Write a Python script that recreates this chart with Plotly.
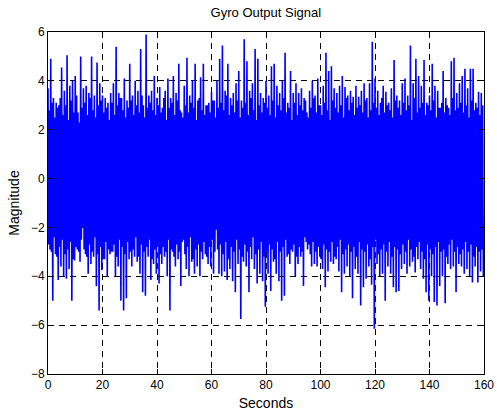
import plotly.graph_objects as go

# Largest peaks (one per second, t = i) and deepest troughs (t = i + 0.75)
upper = [3.7, 4.9, 3.3, 3.1, 3.0, 4.55, 3.6, 5.05, 3.8, 4.0,
         4.2, 2.7, 5.0, 3.7, 3.8, 3.5, 5.0, 3.4, 4.75, 3.9,
         3.4, 3.3, 3.1, 3.5, 3.9, 5.4, 3.5, 3.3, 4.1, 3.2,
         4.7, 3.4, 4.0, 3.6, 5.3, 3.0, 5.9, 3.4, 3.6, 4.2,
         3.3, 3.75, 2.9, 3.6, 4.1, 3.3, 4.2, 3.5, 4.7, 2.7,
         3.8, 4.95, 3.4, 4.0, 4.7, 3.2, 4.15, 4.7, 3.0, 3.1,
         3.55, 3.2, 4.0, 4.9, 5.45, 3.6, 4.7, 3.3, 3.5, 3.9,
         4.4, 3.2, 5.7, 4.8, 3.6, 3.9, 5.3, 4.9, 3.5, 3.3,
         4.0, 3.4, 4.6, 4.7, 3.8, 3.5, 4.0, 5.15, 3.1, 4.4,
         3.5, 3.9, 3.5, 3.7, 3.3, 2.7, 3.6, 4.0, 3.4, 4.1,
         3.0, 3.8, 5.15, 4.4, 4.6, 3.7, 3.5, 3.8, 4.2, 3.75,
         3.4, 3.6, 3.35, 3.8, 3.35, 3.6, 3.9, 3.3, 3.9, 5.6,
         4.1, 3.6, 3.1, 3.8, 3.55, 3.1, 3.7, 4.85, 3.4, 3.2,
         3.9, 4.1, 3.4, 5.45, 3.9, 4.9, 4.2, 3.8, 4.85, 3.1,
         3.4, 4.7, 3.8, 3.6, 2.9, 4.4, 3.3, 2.9, 4.8, 4.95,
         3.5, 3.9, 4.2, 4.5, 3.7, 4.5, 4.5, 3.1, 3.55, 3.5]

lower = [-2.9, -5.0, -3.1, -4.15, -3.6, -4.0, -4.1, -3.7, -5.0, -3.35,
         -2.9, -3.4, -2.0, -3.1, -3.9, -3.5, -3.2, -4.4, -5.4, -3.75,
         -3.3, -4.0, -3.1, -3.0, -4.0, -3.6, -5.0, -5.4, -4.9, -3.3,
         -3.6, -3.2, -3.4, -3.9, -4.65, -4.8, -3.2, -4.15, -3.5, -3.9,
         -4.3, -3.5, -3.2, -4.0, -5.4, -3.0, -3.6, -3.3, -4.4, -2.5,
         -3.7, -4.0, -3.4, -3.9, -3.6, -4.0, -3.3, -3.1, -3.5, -3.6,
         -3.9, -2.1, -3.9, -4.0, -3.8, -4.15, -3.7, -4.2, -4.65, -3.5,
         -5.75, -3.4, -3.6, -4.65, -3.3, -3.7, -4.3, -3.9, -4.2, -5.25,
         -3.9, -4.6, -3.4, -3.9, -4.2, -5.0, -4.8, -3.2, -3.5, -3.0,
         -4.0, -3.5, -3.2, -4.4, -2.6, -2.7, -3.6, -3.5, -3.6, -3.2,
         -3.7, -4.45, -3.8, -3.4, -3.5, -3.3, -3.8, -4.65, -3.9, -3.6,
         -4.0, -4.9, -3.7, -3.9, -5.2, -4.45, -4.1, -3.6, -4.35, -6.15,
         -3.5, -4.0, -3.9, -5.0, -3.6, -3.9, -4.45, -4.65, -4.6, -3.7,
         -3.5, -3.9, -3.6, -3.4, -3.85, -3.3, -3.7, -4.1, -4.65, -5.0,
         -4.0, -5.05, -5.2, -4.4, -4.0, -5.1, -3.5, -3.7, -3.6, -4.65,
         -3.5, -3.6, -3.9, -3.7, -4.0, -4.25, -3.6, -4.25, -3.8, -4.0]

# Secondary (smaller) peaks (t = i + 0.5) and troughs (t = i + 0.25)
upper2 = [2.8, 3.1, 2.5, 2.9, 3.3, 2.6, 3.0, 2.4, 3.2, 2.7,
          3.4, 2.3, 2.9, 3.1, 2.6, 3.3, 2.8, 2.5, 3.0, 3.2,
          2.7, 2.9, 2.4, 3.1, 2.6, 3.0, 3.3, 2.8, 2.5, 2.9,
          3.2, 2.6, 3.0, 2.7, 3.4, 2.5, 2.9, 3.1, 2.8, 2.6,
          3.0, 2.7, 3.3, 2.4, 2.9, 3.1, 2.6, 3.2, 2.8, 2.5,
          3.0, 2.7, 3.1, 2.9, 2.4, 3.3, 2.8, 2.6, 3.0, 2.7,
          3.2, 2.5, 2.9, 3.1, 2.8, 3.4, 2.6, 3.0, 2.7, 3.2,
          2.5, 2.9, 3.1, 2.6, 3.3, 2.8, 2.4, 3.0, 2.7, 3.1,
          2.9, 2.6, 3.2, 2.5, 3.0, 2.8, 3.3, 2.7, 2.9, 2.4,
          3.1, 2.6, 3.0, 2.8, 3.2, 2.5, 2.9, 3.3, 2.7, 3.0,
          2.6, 3.1, 2.8, 2.4, 3.2, 2.9, 2.7, 3.0, 2.5, 3.3,
          2.8, 3.1, 2.6, 2.9, 3.0, 2.7, 3.2, 2.5, 2.8, 3.1,
          2.9, 2.6, 3.3, 2.7, 3.0, 2.8, 2.5, 3.2, 2.9, 2.6,
          3.1, 2.8, 3.0, 2.4, 3.3, 2.7, 2.9, 3.1, 2.6, 3.0,
          2.8, 3.2, 2.5, 2.9, 3.1, 2.7, 3.0, 2.6, 3.3, 2.8,
          2.9, 3.1, 2.7, 3.0, 2.5, 3.2, 2.8, 2.9, 2.6, 3.0]

lower2 = [-2.7, -3.0, -2.4, -3.2, -2.8, -2.5, -3.1, -2.9, -2.6, -3.3,
          -2.8, -3.0, -2.5, -2.9, -3.2, -2.7, -3.0, -2.4, -3.1, -2.8,
          -3.3, -2.6, -2.9, -3.0, -2.7, -3.2, -2.5, -2.8, -3.1, -2.6,
          -3.0, -2.9, -2.4, -3.2, -2.7, -3.0, -2.8, -2.5, -3.3, -2.9,
          -2.6, -3.1, -2.8, -3.0, -2.5, -2.9, -3.2, -2.7, -3.0, -2.6,
          -3.1, -2.8, -2.4, -3.3, -2.9, -2.7, -3.0, -2.6, -3.2, -2.8,
          -2.5, -3.0, -2.9, -2.7, -3.1, -2.6, -3.3, -2.8, -3.0, -2.5,
          -2.9, -3.2, -2.7, -3.0, -2.8, -2.4, -3.1, -2.9, -2.6, -3.2,
          -3.0, -2.7, -2.9, -3.3, -2.6, -3.0, -2.8, -2.5, -3.1, -2.9,
          -2.7, -3.2, -2.8, -3.0, -2.4, -2.9, -3.1, -2.6, -3.0, -2.8,
          -3.3, -2.7, -2.9, -3.0, -2.6, -3.2, -2.8, -2.5, -3.1, -2.9,
          -2.7, -3.0, -2.8, -3.2, -2.6, -2.9, -3.0, -2.7, -3.3, -2.8,
          -2.5, -3.1, -2.9, -2.7, -3.0, -2.6, -3.2, -2.8, -2.9, -3.1,
          -2.7, -3.0, -2.5, -2.9, -3.2, -2.8, -2.6, -3.0, -3.3, -2.7,
          -2.9, -3.1, -2.8, -2.6, -3.0, -2.9, -3.2, -2.7, -2.5, -3.0,
          -2.8, -3.1, -2.9, -2.6, -3.0, -2.7, -3.2, -2.8, -3.0, -2.9]

x_ticks = [0, 20, 40, 60, 80, 100, 120, 140, 160]
y_ticks = [-8, -6, -4, -2, 0, 2, 4, 6]

times = []
signal = []
for i in range(len(upper)):
    times += [i, i + 0.25, i + 0.5, i + 0.75]
    signal += [upper[i], lower2[i], upper2[i], lower[i]]

fig = go.Figure(go.Scatter(x=times, y=signal, mode="lines",
                           line=dict(color="#0000FF", width=1.6),
                           hoverinfo="skip"))

font = "Liberation Sans, Arial"
axis_common = dict(showline=True, linecolor="black", linewidth=1, mirror="ticks",
                   ticks="inside", ticklen=5, tickcolor="black",
                   showgrid=True, gridcolor="black", gridwidth=1, griddash="6px,5px",
                   zeroline=False, automargin=False,
                   tickfont=dict(family=font, size=12, color="black"))

fig.update_layout(
    width=497, height=415,
    margin=dict(l=48, r=13, t=32, b=41),
    paper_bgcolor="white", plot_bgcolor="white",
    showlegend=False,
    title=dict(text="Gyro Output Signal", x=0.535, xanchor="center", y=0.97, yanchor="middle",
               font=dict(family=font, size=13, color="black")),
    xaxis=dict(range=[0, 160], tickvals=x_ticks,
               title=dict(text="Seconds", standoff=6,
                          font=dict(family=font, size=14, color="black")),
               **axis_common),
    yaxis=dict(range=[-8, 6], tickvals=y_ticks,
               title=dict(text="Magnitude", standoff=8,
                          font=dict(family=font, size=14, color="black")),
               **axis_common),
)

fig.write_html("out.html")
